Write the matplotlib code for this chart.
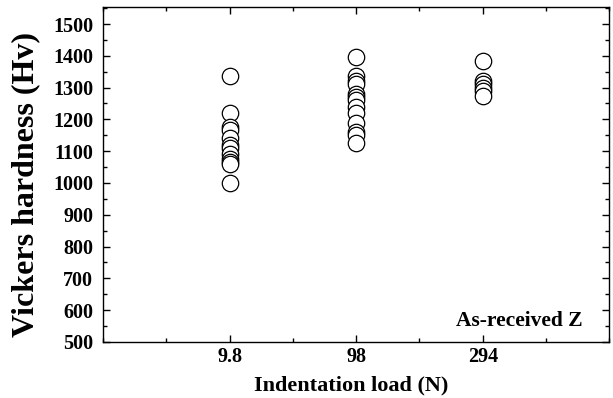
import numpy as np
import matplotlib.pyplot as plt
from matplotlib.ticker import MultipleLocator

# Vickers hardness measurements per indentation load
loads = ["9.8", "98", "294"]
hv_9_8 = [1335, 1220, 1175, 1165, 1140, 1120, 1110, 1090, 1075, 1065, 1060, 1000]
hv_98 = [1395, 1335, 1320, 1310, 1280, 1270, 1260, 1240, 1220, 1190, 1160, 1150, 1125]
hv_294 = [1385, 1320, 1310, 1300, 1290, 1275]

plt.rcParams['font.family'] = ['Liberation Serif', 'DejaVu Serif']
plt.rcParams['font.weight'] = 'bold'

fig = plt.figure(figsize=(6.13, 3.98), dpi=100)
ax = fig.add_axes([0.168, 0.141, 0.826, 0.841])

for i, vals in enumerate([hv_9_8, hv_98, hv_294]):
    ax.scatter(np.full(len(vals), i + 1), vals, s=140, facecolors='white',
               edgecolors='black', linewidths=0.9, zorder=3)

ax.set_xlim(0, 4)
ax.set_ylim(500, 1553)
ax.set_xticks([1, 2, 3])
ax.set_xticklabels(loads)
ax.xaxis.set_minor_locator(MultipleLocator(0.5))
ax.yaxis.set_major_locator(MultipleLocator(100))
ax.yaxis.set_minor_locator(MultipleLocator(50))
ax.tick_params(which='both', direction='in', top=True, right=True,
               labelsize=14.5, width=1)
ax.tick_params(which='major', length=5)
ax.tick_params(which='minor', length=3)
ax.tick_params(axis='y', which='major', pad=7)
for s in ax.spines.values():
    s.set_linewidth(1)

ax.set_xlabel("Indentation load (N)", fontsize=16, fontweight='bold')
ax.set_ylabel("Vickers hardness (Hv)", fontsize=23, fontweight='bold')
ax.xaxis.set_label_coords(0.49, -0.1)
ax.yaxis.set_label_coords(-0.123, 0.47)
ax.text(0.947, 0.063, "As-received Z", transform=ax.transAxes, ha='right',
        va='center', fontsize=15.5, fontweight='bold')

fig.savefig("out.png", dpi=100)
